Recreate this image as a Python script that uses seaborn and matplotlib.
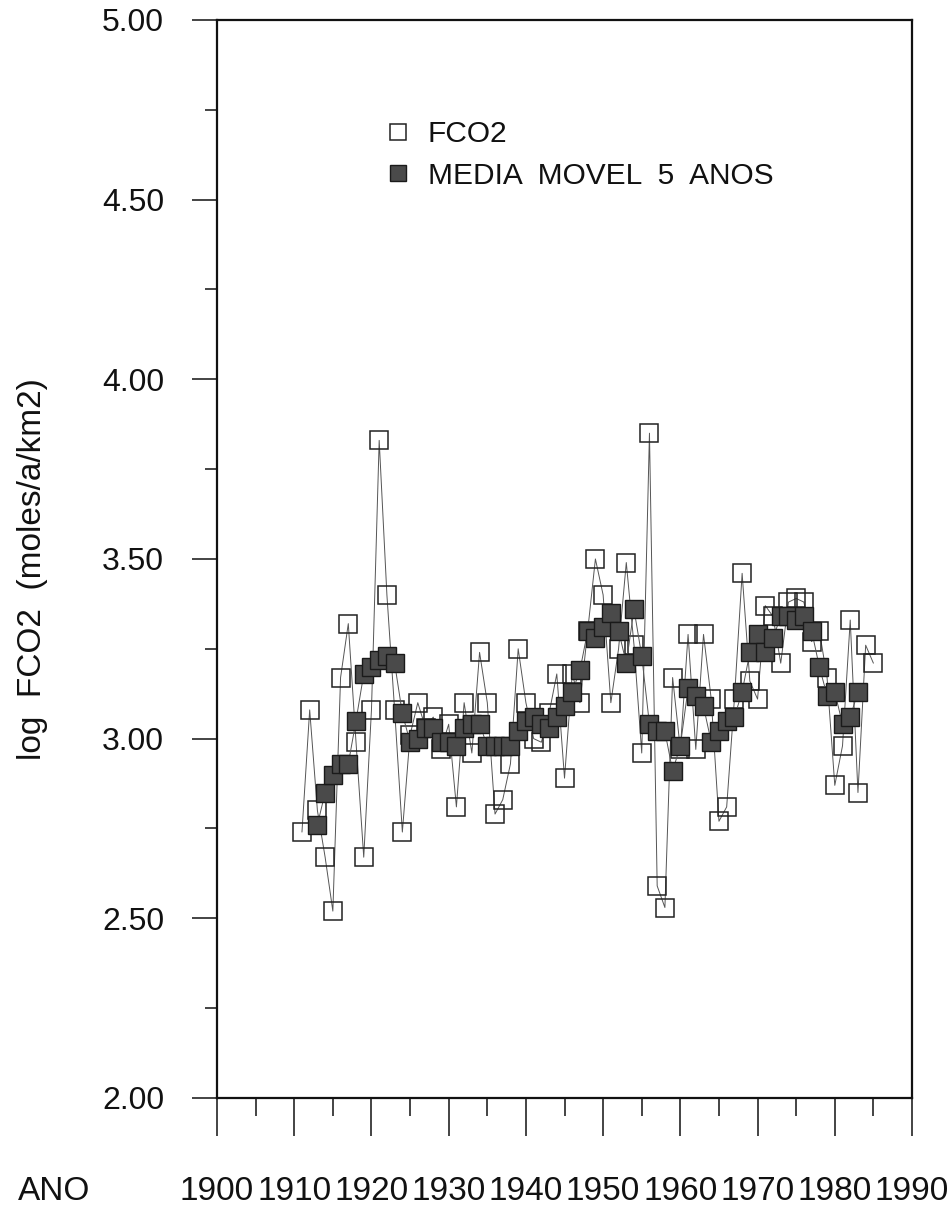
"""Fluxo de CO2 (log FCO2) por ano, com média móvel de 5 anos."""
import matplotlib
matplotlib.use("Agg")
import matplotlib.pyplot as plt
from matplotlib.lines import Line2D
from matplotlib.ticker import MultipleLocator, FormatStrFormatter
import seaborn as sns

# dados
anos = list(range(1911, 1986))
fco2 = [2.74, 3.08, 2.80, 2.67, 2.52, 3.17, 3.32, 2.99, 2.67, 3.08,
        3.83, 3.40, 3.08, 2.74, 3.01, 3.10, 3.03, 3.06, 2.97, 3.04,
        2.81, 3.10, 2.96, 3.24, 3.10, 2.79, 2.83, 2.93, 3.25, 3.10,
        3.00, 2.99, 3.07, 3.18, 2.89, 3.18, 3.10, 3.30, 3.50, 3.40,
        3.10, 3.25, 3.49, 3.26, 2.96, 3.85, 2.59, 2.53, 3.17, 2.97,
        3.29, 2.97, 3.29, 3.11, 2.77, 2.81, 3.11, 3.46, 3.16, 3.11,
        3.37, 3.34, 3.21, 3.38, 3.39, 3.38, 3.27, 3.30, 3.17, 2.87,
        2.98, 3.33, 2.85, 3.26, 3.21]

anos_media = list(range(1913, 1984))
media_movel = [2.76, 2.85, 2.90, 2.93, 2.93, 3.05, 3.18, 3.20, 3.22, 3.23,
               3.21, 3.07, 2.99, 3.00, 3.03, 3.03, 2.99, 2.99, 2.98, 3.03,
               3.04, 3.04, 2.98, 2.98, 2.98, 2.98, 3.02, 3.05, 3.06, 3.04,
               3.03, 3.06, 3.09, 3.13, 3.19, 3.30, 3.28, 3.31, 3.35, 3.30,
               3.21, 3.36, 3.23, 3.04, 3.02, 3.02, 2.91, 2.98, 3.14, 3.12,
               3.09, 2.99, 3.02, 3.05, 3.06, 3.13, 3.24, 3.29, 3.24, 3.28,
               3.34, 3.34, 3.33, 3.34, 3.30, 3.20, 3.12, 3.13, 3.04, 3.06,
               3.13]

sns.set_theme(style="white")
plt.rcParams['font.family'] = ['Liberation Sans', 'DejaVu Sans']

fig = plt.figure(figsize=(9.51, 12.10), dpi=100)
ax = fig.add_axes([0.2282, 0.0926, 0.7308, 0.8909])

sns.lineplot(x=anos, y=fco2, ax=ax, color='#555555', linewidth=0.7,
             marker='s', markersize=12.5, markerfacecolor='none',
             markeredgecolor='#222222', markeredgewidth=1.1, zorder=2)
sns.lineplot(x=anos_media, y=media_movel, ax=ax, color='#555555', linewidth=0.7,
             marker='s', markersize=12.5, markerfacecolor='#4a4a4a',
             markeredgecolor='#1a1a1a', markeredgewidth=1.0, zorder=3)

ax.set_xlim(1900, 1990)
ax.set_ylim(2, 5)
ax.xaxis.set_major_locator(MultipleLocator(10))
ax.xaxis.set_minor_locator(MultipleLocator(5))
ax.yaxis.set_major_locator(MultipleLocator(0.5))
ax.yaxis.set_minor_locator(MultipleLocator(0.25))
ax.yaxis.set_major_formatter(FormatStrFormatter('%.2f'))

for lado in ['left', 'right', 'top', 'bottom']:
    ax.spines[lado].set_color('#111111')
    ax.spines[lado].set_linewidth(1.6)

ax.tick_params(axis='y', which='major', direction='out', length=18, width=1.1,
               pad=20, labelsize=23, left=True, color='#111111', labelcolor='#111111')
ax.tick_params(axis='y', which='minor', direction='out', length=9, width=1.1,
               left=True, color='#111111')
ax.tick_params(axis='x', which='major', direction='out', length=27, width=1.1,
               pad=29, labelsize=24, bottom=True, color='#111111', labelcolor='#111111')
ax.tick_params(axis='x', which='minor', direction='out', length=13, width=1.1,
               bottom=True, color='#111111')

ax.set_ylabel('log  FCO2  (moles/a/km2)', fontsize=24, color='#111111')
ax.yaxis.set_label_coords(-0.243, 0.491)
ax.set_xlabel('')
fig.text(18 / 951, 1 - 1192 / 1210, 'ANO', fontsize=24, va='center', ha='left',
         color='#111111')

handles = [
    Line2D([], [], linestyle='none', marker='s', markersize=11,
           markerfacecolor='none', markeredgecolor='#222222', markeredgewidth=1.1),
    Line2D([], [], linestyle='none', marker='s', markersize=11,
           markerfacecolor='#4a4a4a', markeredgecolor='#1a1a1a'),
]
ax.legend(handles, ['FCO2', 'MEDIA  MOVEL  5  ANOS'], loc='upper left',
          bbox_to_anchor=(0.20, 0.932), frameon=False, fontsize=21.5,
          handletextpad=0.5, labelspacing=0.45, handlelength=1.0,
          labelcolor='#111111')

fig.savefig('out.png', dpi=100, facecolor='white')
